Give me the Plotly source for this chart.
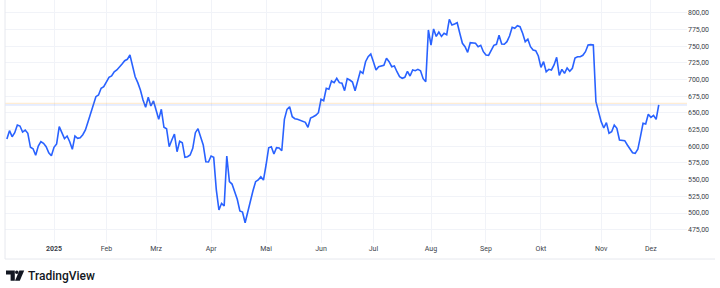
import pandas as pd
import plotly.graph_objects as go

# ---------------- data ----------------
holidays = ["2024-12-25", "2025-01-01", "2025-01-09", "2025-01-20", "2025-02-17",
            "2025-04-18", "2025-05-26", "2025-06-19", "2025-07-04", "2025-09-01",
            "2025-11-27", "2025-12-25"]
first_session = "2024-12-05"

# trading-session number (0 = first session) of every read vertex
session_no = [*range(0, 112), *range(113, 250)]

prices = [
    610.8, 623.3, 614.3, 620.3, 631.8, 630.3, 621.3, 624.3, 619.4, 598.4,
    596.3, 586.4, 600.4, 606.8, 604.4, 599.3, 590.3, 585.8, 598.4, 603.4,
    629.3, 619.4, 611.3, 615.3, 606.8, 595.4, 615.3, 611.9, 612.8, 617.3,
    624.3, 636.8, 648.3, 660.3, 674.2, 676.7, 686.8, 689.2, 696.7, 703.3,
    705.2, 711.6,
    714.2, 718.2, 723.2, 728.1, 730.2, 736.6, 719.1, 704.1, 695.2, 684.2,
    669.3, 658.3, 673.3, 660.3, 667.8, 653.2, 640.3, 655.3, 628.4, 626.3,
    599.3, 609.3, 618.3, 591.8, 607.4, 605.3, 583.4, 584.3, 586.9, 596.9,
    620.3, 626.3, 613.4, 601.9, 576.8, 576.4, 585.4, 583.4, 534.5, 504.5,
    514.5, 510.5,
    585.4, 546.9, 543.4, 531.9, 520.5, 503.0, 501.5, 485.5, 502.0, 520.5,
    533.4, 546.9, 549.4, 554.4, 549.4, 571.9, 597.8, 599.3, 588.4, 597.8,
    597.4, 593.3, 640.3, 655.3, 659.2, 644.2, 641.2, 640.3,
    637.4, 635.9, 628.4, 642.3, 644.2, 646.3, 650.2, 670.3, 668.2, 686.8,
    685.3, 697.7, 695.2, 701.8, 695.2, 694.3, 683.2, 701.2, 699.2, 696.2,
    683.2, 699.2, 712.2, 709.2, 726.6, 734.1, 738.1, 726.6, 714.2, 719.1,
    720.2, 721.2, 731.7, 726.6, 719.1, 720.2, 711.6, 704.1, 701.8, 703.3,
    712.2, 705.2, 714.2, 713.1, 715.2, 713.1, 701.2, 696.7,
    774.1, 751.6, 775.6, 764.4, 771.1, 764.4, 769.2, 767.1, 790.1, 781.6,
    783.1, 785.0, 769.2, 754.2, 749.1, 740.7, 755.1, 754.2, 754.2, 749.1,
    751.2, 741.6, 736.6, 736.2, 744.1, 751.2, 752.7, 766.2, 753.1, 752.7,
    756.6, 765.1, 778.1, 776.6, 780.5, 779.0, 769.2, 756.6, 760.2, 749.1,
    744.1, 743.1, 735.2, 718.2, 726.6, 711.6, 715.2, 714.2, 721.7, 733.2,
    706.2, 715.2, 709.2, 717.2, 712.2, 716.7, 732.2, 734.1, 734.1, 736.2,
    741.6, 751.6, 752.1, 751.6, 666.7, 650.2, 636.8, 627.3, 635.3, 619.4,
    621.8, 631.8, 626.9, 609.3, 609.3, 608.3, 601.9, 596.9, 590.3, 589.4,
    595.4, 614.3, 634.4, 633.3, 647.8, 643.3, 646.3, 640.3, 661.8,
]

prev_close = 664.3

month_starts = ["2025-01-01", "2025-02-01", "2025-03-01", "2025-04-01", "2025-05-01",
                "2025-06-01", "2025-07-01", "2025-08-01", "2025-09-01", "2025-10-01",
                "2025-11-01", "2025-12-01"]
month_labels = ["<b>2025</b>", "Feb", "Mrz", "Apr", "Mai", "Jun", "Jul", "Aug",
                "Sep", "Okt", "Nov", "Dez"]
price_ticks = [475, 500, 525, 550, 575, 600, 625, 650, 675, 700, 725, 750, 775, 800]

# ---------------- figure ----------------
sessions = pd.bdate_range(first_session, "2025-12-31", freq="C", holidays=holidays)
tick_pos = [int(sessions.searchsorted(pd.Timestamp(m))) for m in month_starts]
dates = [sessions[i].strftime("%d.%m.%Y") for i in session_no]

W, H = 720, 288
L, R, T, B = 5, 687, 0, 243        # plot area in pixels
PW, PH = R - L, B - T


def paper(px, py):
    return (px - L) / PW, (B - py) / PH


def path(points):
    s = ""
    for k, (px, py) in enumerate(points):
        x, y = paper(px, py)
        s += ("M" if k == 0 else "L") + f"{x:.5f},{y:.5f} "
    return s + "Z"


fig = go.Figure()
fig.add_trace(go.Scatter(
    x=session_no, y=prices, customdata=dates, mode="lines",
    line=dict(color="#2962FF", width=1.6),
    hovertemplate="%{customdata}<br>%{y:.2f}<extra></extra>",
))

axis_font = dict(family="Roboto, Arial, sans-serif", size=7, color="#3b3f4a")
grid = "#f1f3f8"

shapes = [
    dict(type="line", xref="paper", x0=0, x1=1, yref="y", y0=prev_close, y1=prev_close,
         line=dict(color="rgba(255,152,0,0.22)", width=1)),
    dict(type="line", xref="paper", x0=0, x1=1, yref="y", y0=prices[-1], y1=prices[-1],
         line=dict(color="rgba(41,98,255,0.22)", width=1)),
]
# outer frame (left and bottom edges)
x1, y1 = paper(5, 259)
x2, _ = paper(715, 259)
shapes.append(dict(type="line", xref="paper", yref="paper", x0=x1, y0=1.2, x1=x1, y1=y1,
                   line=dict(color="#e6e8ee", width=1)))
shapes.append(dict(type="line", xref="paper", yref="paper", x0=x1, y0=y1, x1=x2, y1=y1,
                   line=dict(color="#e6e8ee", width=1)))

# TradingView logo mark
logo_col = "#131722"
shapes.append(dict(type="path", xref="paper", yref="paper", fillcolor=logo_col, line=dict(width=0),
                   path=path([(6, 270.5), (14.8, 270.5), (14.8, 280.8), (10.6, 280.8), (10.6, 274.6), (6, 274.6)])))
shapes.append(dict(type="path", xref="paper", yref="paper", fillcolor=logo_col, line=dict(width=0),
                   path=path([(19.4, 270.5), (24.2, 270.5), (19.8, 280.8), (15.0, 280.8)])))
cx0, cy0 = paper(15.0, 270.5)
cx1, cy1 = paper(18.6, 274.1)
shapes.append(dict(type="circle", xref="paper", yref="paper", x0=cx0, y0=cy1, x1=cx1, y1=cy0,
                   fillcolor=logo_col, line=dict(width=0)))

tx, ty = paper(26, 276)
annotations = [dict(text="TradingView", xref="paper", yref="paper", x=tx, y=ty,
                    xanchor="left", yanchor="middle", showarrow=False,
                    font=dict(family="Roboto, Arial, sans-serif", size=12, color=logo_col, weight=500))]

ppu = (229.7 - 12.7) / (800 - 475)   # pixels per price unit

fig.update_layout(
    width=W, height=H,
    margin=dict(l=L, r=W - R, t=T, b=H - B, pad=0),
    paper_bgcolor="white", plot_bgcolor="white",
    separators=",.",
    showlegend=False,
    shapes=shapes,
    annotations=annotations,
    xaxis=dict(range=[(L - 6.88) / 2.618, (R - 6.88) / 2.618],
               tickmode="array", tickvals=tick_pos, ticktext=month_labels,
               showgrid=True, gridcolor=grid, gridwidth=1, zeroline=False, showline=False,
               ticks="", tickfont=axis_font, automargin=False, fixedrange=True),
    yaxis=dict(side="right", range=[800 - (B - 12.7) / ppu, 800 + 12.7 / ppu],
               tickmode="array", tickvals=price_ticks, tickformat=".2f",
               showgrid=True, gridcolor=grid, gridwidth=1, zeroline=False, showline=False,
               ticks="", tickfont=axis_font, automargin=False, fixedrange=True),
)

fig.write_html("out.html", config={"displayModeBar": False})
